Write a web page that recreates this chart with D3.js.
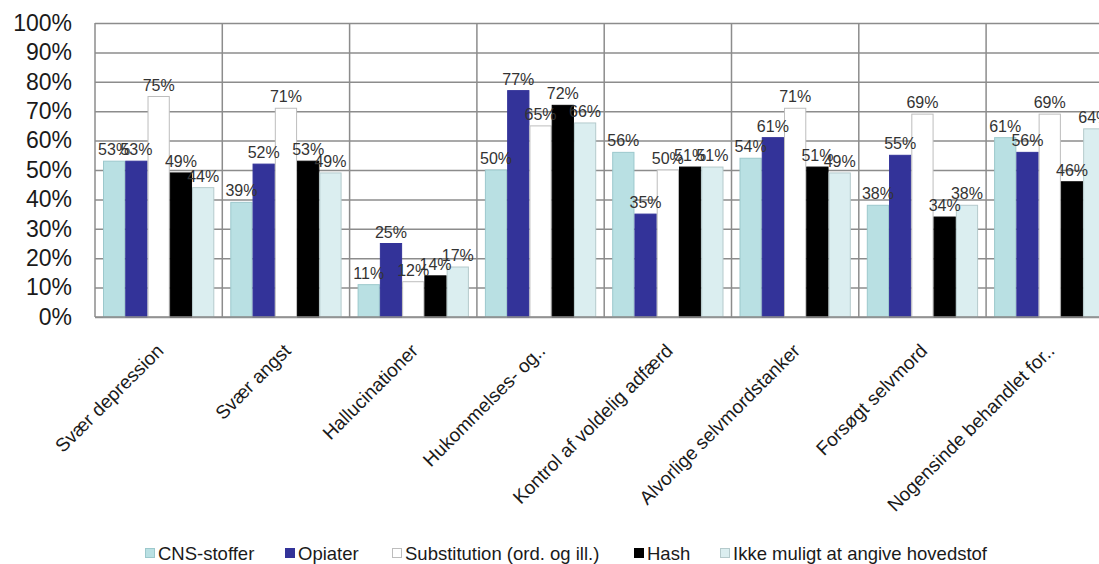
<!DOCTYPE html>
<html>
<head>
<meta charset="utf-8">
<script src="https://cdn.jsdelivr.net/npm/d3@7"></script>
<style>
    body { margin: 0; background: #fff; }
    svg { display: block; font-family: "Liberation Sans", Arial, sans-serif; }
    .grid line { stroke: #8c8c8c; stroke-width: 1.5; }
    .grid .domain { display: none; }
    .grid text { font-size: 23px; fill: #1a1a1a; }
    .bar-label { font-size: 16px; fill: #333; text-anchor: middle; }
    .cat-label { font-size: 19px; fill: #1a1a1a; text-anchor: end; }
    .legend-label { font-size: 18.5px; fill: #1a1a1a; }
</style>
</head>
<body>
<div id="chart"></div>
<script>
// Data
const categories = [
    "Svær depression",
    "Svær angst",
    "Hallucinationer",
    "Hukommelses- og..",
    "Kontrol af voldelig adfærd",
    "Alvorlige selvmordstanker",
    "Forsøgt selvmord",
    "Nogensinde behandlet for.."
];

const seriesNames = ["CNS-stoffer", "Opiater", "Substitution (ord. og ill.)", "Hash", "Ikke muligt at angive hovedstof"];

const cnsValues = [53, 39, 11, 50, 56, 54, 38, 61];
const opiaterValues = [53, 52, 25, 77, 35, 61, 55, 56];
const substitutionValues = [75, 71, 12, 65, 50, 71, 69, 69];
const hashValues = [49, 53, 14, 72, 51, 51, 34, 46];
const ikkeValues = [44, 49, 17, 66, 51, 49, 38, 64];

const yTicks = [0, 10, 20, 30, 40, 50, 60, 70, 80, 90, 100];

const seriesValues = [cnsValues, opiaterValues, substitutionValues, hashValues, ikkeValues];
const fills = ["#b9e0e3", "#333399", "#ffffff", "#000000", "#dbeef0"];
const strokes = ["#9cc8cc", "#333399", "#bdbdbd", "#000000", "#b5cacc"];

const width = 1099;
const height = 564;
const plotLeft = 95;
const plotTop = 23;
const plotBottom = 317;
const catWidth = 127.3;

const svg = d3.select("#chart")
    .append("svg")
    .attr("width", width)
    .attr("height", height);

const xScale = d3.scaleBand()
    .domain(categories)
    .range([plotLeft, plotLeft + catWidth * categories.length])
    .padding(0);

const xInner = d3.scaleBand()
    .domain(seriesNames)
    .range([8, catWidth - 8])
    .padding(0);

const yScale = d3.scaleLinear()
    .domain([0, 100])
    .range([plotBottom, plotTop]);

// horizontal grid + y labels
svg.append("g")
    .attr("class", "grid")
    .attr("transform", `translate(${plotLeft}, 0)`)
    .call(
        d3.axisLeft(yScale)
            .tickValues(yTicks)
            .tickSize(-(catWidth * categories.length))
            .tickPadding(23)
            .tickFormat(d => d + "%")
    );

// vertical separators
svg.append("g")
    .selectAll("line")
    .data(categories)
    .join("line")
    .attr("x1", d => xScale(d))
    .attr("x2", d => xScale(d))
    .attr("y1", plotTop)
    .attr("y2", plotBottom)
    .attr("stroke", "#8c8c8c")
    .attr("stroke-width", 1.5);

// bars
const groups = svg.append("g")
    .selectAll("g")
    .data(categories)
    .join("g")
    .attr("transform", d => `translate(${xScale(d)}, 0)`);

seriesNames.forEach((name, si) => {
    groups.append("rect")
        .attr("x", xInner(name) + 0.5)
        .attr("y", (d, i) => yScale(seriesValues[si][i]))
        .attr("width", xInner.bandwidth() - 1)
        .attr("height", (d, i) => plotBottom - yScale(seriesValues[si][i]))
        .attr("fill", fills[si])
        .attr("stroke", strokes[si])
        .attr("stroke-width", 1);
});

// data labels
seriesNames.forEach((name, si) => {
    groups.append("text")
        .attr("class", "bar-label")
        .attr("x", xInner(name) + xInner.bandwidth() / 2)
        .attr("y", (d, i) => yScale(seriesValues[si][i]) - 6)
        .text((d, i) => seriesValues[si][i] + "%");
});

// bottom axis line
svg.append("line")
    .attr("x1", plotLeft)
    .attr("x2", width)
    .attr("y1", plotBottom)
    .attr("y2", plotBottom)
    .attr("stroke", "#8c8c8c")
    .attr("stroke-width", 1.5);

// category labels
svg.append("g")
    .selectAll("text")
    .data(categories)
    .join("text")
    .attr("class", "cat-label")
    .attr("transform", d => `translate(${xScale(d) + xScale.bandwidth() / 2 + 6}, 352) rotate(-45)`)
    .text(d => d);

// legend
const legendX = [145, 285, 392, 634, 720];
const legend = svg.append("g")
    .selectAll("g")
    .data(seriesNames)
    .join("g")
    .attr("transform", (d, i) => `translate(${legendX[i]}, 548)`);

legend.append("rect")
    .attr("x", 0.5)
    .attr("y", 0.5)
    .attr("width", 9)
    .attr("height", 9)
    .attr("fill", (d, i) => fills[i])
    .attr("stroke", (d, i) => strokes[i]);

legend.append("text")
    .attr("class", "legend-label")
    .attr("x", 13)
    .attr("y", 12)
    .text(d => d);
</script>
</body>
</html>
